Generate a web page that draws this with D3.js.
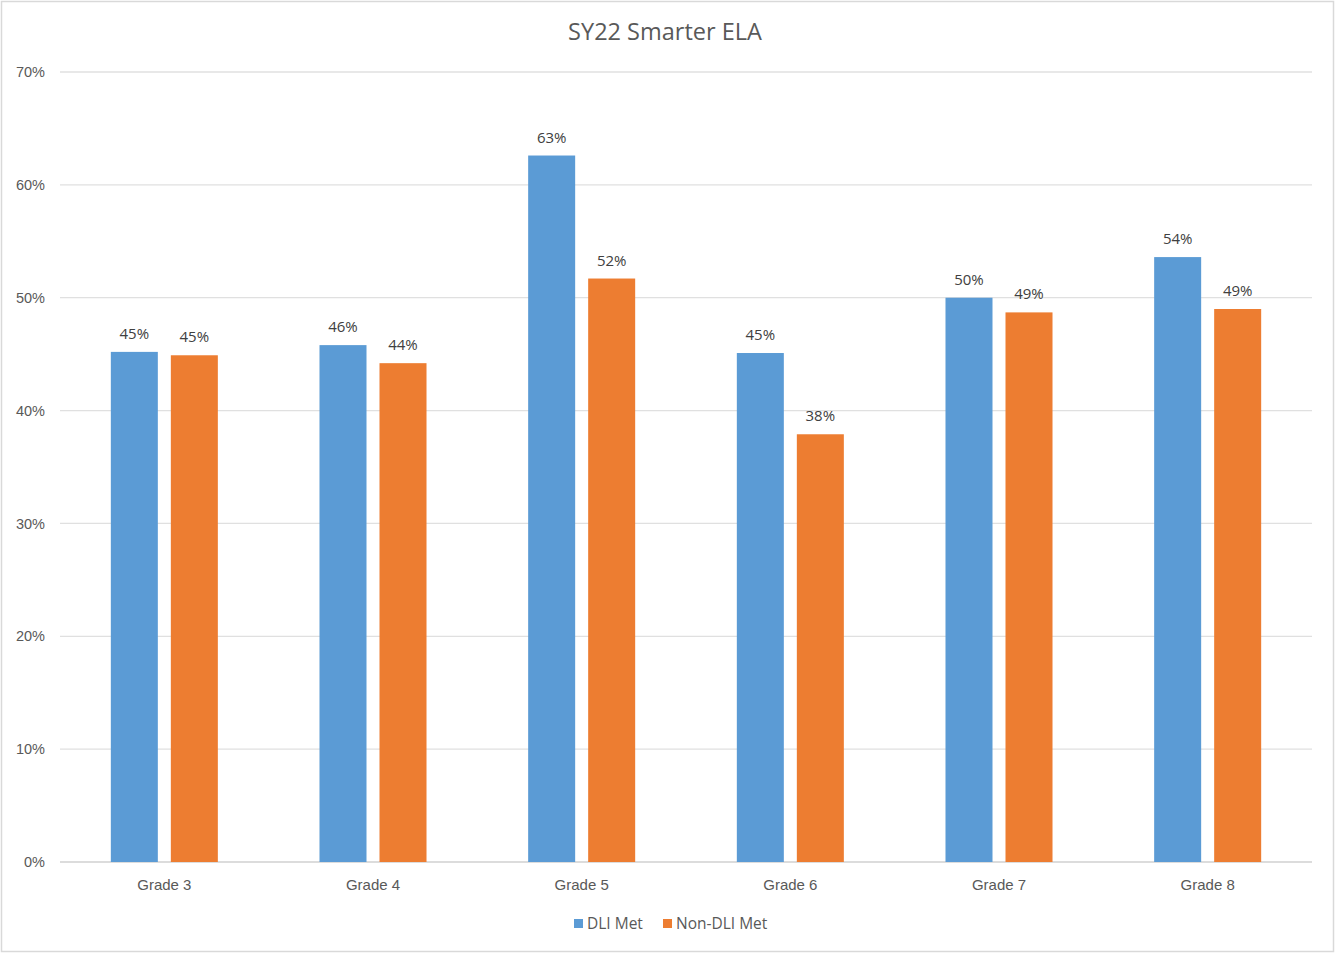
<!DOCTYPE html>
<html><head><meta charset="utf-8">
<script src="https://cdn.jsdelivr.net/npm/d3@7"></script>
<style>body{margin:0;background:#fff;}svg{display:block;font-family:"Open Sans","Noto Sans",sans-serif;}</style>
</head><body>
<svg id="c" width="1340" height="956"></svg>
<script>
const categories = ["Grade 3","Grade 4","Grade 5","Grade 6","Grade 7","Grade 8"];
const seriesNames = ["DLI Met","Non-DLI Met"];
const dliMet = [45.2, 45.8, 62.6, 45.1, 50.0, 53.6];
const nonDliMet = [44.9, 44.2, 51.7, 37.9, 48.7, 49.0];
const yTicks = [0,10,20,30,40,50,60,70];
const colors = ["#5B9BD5","#ED7D31"];

const svg = d3.select("#c");
const m = {l:60, r:1312, t:72, b:862};
svg.append("rect").attr("x",1.5).attr("y",1.5).attr("width",1332).attr("height",950)
  .attr("fill","#fff").attr("stroke","#d9d9d9").attr("stroke-width",1.5);

const y = d3.scaleLinear().domain([0,70]).range([m.b,m.t]);
const x0 = d3.scaleBand().domain(categories).range([m.l,m.r]);
const x1 = d3.scaleBand().domain(seriesNames).range([0,x0.bandwidth()]).paddingInner(0.2167).paddingOuter(0.847);

// gridlines
svg.append("g").selectAll("line").data(yTicks).join("line")
  .attr("x1",m.l).attr("x2",m.r).attr("y1",d=>y(d)).attr("y2",d=>y(d))
  .attr("stroke",d=>d===0?"#d0d0d0":"#e0e0e0").attr("stroke-width",1.3);

// y axis labels
const ya = d3.axisLeft(y).tickValues(yTicks).tickFormat(d=>d+"%").tickSize(0).tickPadding(15);
const yg = svg.append("g").attr("transform",`translate(${m.l},0)`).call(ya);
yg.select(".domain").remove();
yg.selectAll("text").attr("fill","#595959").attr("font-size",14.5);

// x axis labels
const xa = d3.axisBottom(x0).tickSize(0).tickPadding(17);
const xg = svg.append("g").attr("transform",`translate(0,${m.b})`).call(xa);
xg.select(".domain").remove();
xg.selectAll("text").attr("fill","#595959").attr("font-size",15);

const data = categories.map((c,i)=>({cat:c, vals:[{s:seriesNames[0],v:dliMet[i],k:0},{s:seriesNames[1],v:nonDliMet[i],k:1}]}));
const g = svg.append("g").selectAll("g").data(data).join("g").attr("transform",d=>`translate(${x0(d.cat)},0)`);
g.selectAll("rect").data(d=>d.vals).join("rect")
  .attr("x",d=>x1(d.s)).attr("width",x1.bandwidth())
  .attr("y",d=>y(d.v)).attr("height",d=>y(0)-y(d.v)).attr("fill",d=>colors[d.k]);
g.selectAll("text").data(d=>d.vals).join("text")
  .attr("x",d=>x1(d.s)+x1.bandwidth()/2).attr("y",d=>y(d.v)-13)
  .attr("text-anchor","middle").attr("fill","#404040").attr("font-size",15)
  .text(d=>Math.round(d.v)+"%");

// title
svg.append("text").attr("x",665).attr("y",40).attr("text-anchor","middle")
  .attr("fill","#595959").attr("font-size",23.5).text("SY22 Smarter ELA");

// legend
const lg = svg.append("g");
const lx = [574, 663];
seriesNames.forEach((s,i)=>{
  lg.append("rect").attr("x",lx[i]).attr("y",919).attr("width",9).attr("height",9).attr("fill",colors[i]);
  lg.append("text").attr("x",lx[i]+13).attr("y",929).attr("fill","#595959").attr("font-size",15.5).text(s);
});
</script>
</body></html>
